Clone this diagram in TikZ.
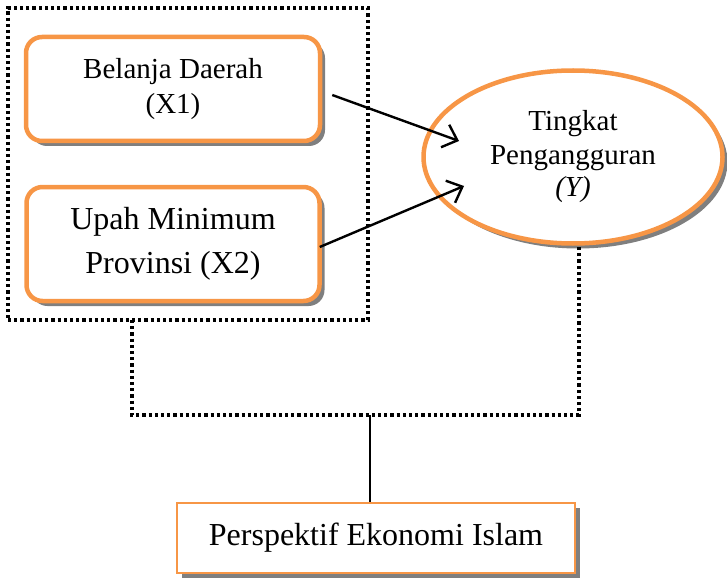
\documentclass[tikz,border=0pt]{standalone}
\usepackage{fontspec}
\setmainfont{Liberation Serif}
\usetikzlibrary{shapes.geometric,shadows,arrows.meta}
\definecolor{orng}{HTML}{F79646}
\definecolor{shd}{HTML}{7F7F7F}
\tikzset{
  varbox/.style={draw=orng, line width=4.5pt, fill=white, rounded corners=16pt, inner sep=0pt, align=center,
    drop shadow={shadow xshift=5pt, shadow yshift=-5pt, fill=shd, opacity=1}},
  dotline/.style={line width=3.2pt, dash pattern=on 3.2pt off 3pt},
  arr/.style={line width=2.4pt, -{Straight Barb[length=13pt,width=24pt,line width=2.4pt]}},
  smallfont/.style={font=\fontsize{29}{35}\selectfont},
  bigfont/.style={font=\fontsize{32}{44}\selectfont}
}
\begin{document}
\begin{tikzpicture}[x=1pt,y=-1pt]
\useasboundingbox (0,0) rectangle (727,580);
% group box
\node[draw, dotline, minimum width=360pt, minimum height=312pt, inner sep=0pt] (grp) at (188,164) {};
% variable boxes
\node[varbox, smallfont, minimum width=294pt, minimum height=104pt] (b1) at (173,89) {Belanja Daerah\\(X1)};
\node[varbox, bigfont, minimum width=293pt, minimum height=114pt] (b2) at (173,244) {Upah Minimum\\Provinsi (X2)};
% ellipse
\node[ellipse, draw=orng, line width=4.5pt, fill=white, inner sep=0pt, align=center, smallfont,
  minimum width=299pt, minimum height=173pt,
  drop shadow={shadow xshift=5pt, shadow yshift=-5pt, fill=shd, opacity=1}] (Y) at (573,157)
  {Tingkat\\[-1pt]Pengangguran\\[-3pt]\textit{(Y)}};
% bottom box
\node[draw=orng, line width=1.8pt, fill=white, inner sep=0pt, bigfont, minimum width=398pt, minimum height=70pt,
  drop shadow={shadow xshift=5pt, shadow yshift=-5pt, fill=shd, opacity=1}] (P) at (376,538) {\raisebox{2pt}{Perspektif Ekonomi Islam}};
% arrows
\coordinate (t1) at (459,141);
\coordinate (t2) at (464,186);
\draw[arr] ([xshift=10pt,yshift=-6pt]b1.east) -- (t1);
\draw[arr] ([xshift=-2pt,yshift=-3pt]b2.east) -- (t2);
% dotted connectors
\coordinate (gl) at (132,320);
\coordinate (yb) at (579,245);
\coordinate (mid) at (370,415);
\draw[dotline] (gl) -- (132,415) -- (579,415) -- (yb);
\draw[line width=1.5pt] (mid) -- (mid |- P.north);
\end{tikzpicture}
\end{document}
